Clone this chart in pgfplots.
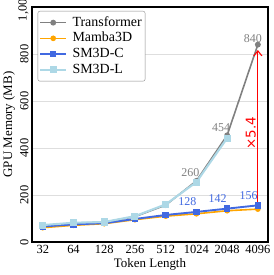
\documentclass[border=0pt]{standalone}
\usepackage{pgfplots}
\pgfplotsset{compat=1.18}
\usepackage{fontspec}
\setmainfont{Liberation Serif}
\newfontfamily\dejavu{DejaVu Sans}
\usetikzlibrary{arrows.meta}
\definecolor{tfgray}{RGB}{128,128,128}
\definecolor{mborange}{RGB}{255,165,0}
\definecolor{smblue}{RGB}{65,105,225}
\definecolor{smlight}{RGB}{173,216,230}
\newcommand{\lf}{\fontsize{14}{16}\selectfont}
\begin{document}
\begin{tikzpicture}
\path[use as bounding box] (-32bp,-33bp) rectangle (242bp,242bp);
\begin{axis}[
  at={(0,0)}, anchor=south west,
  scale only axis, width=236bp, height=235bp,
  xmin=-0.35, xmax=7.33, ymin=0, ymax=1000,
  xtick={0,...,7},
  xticklabels={32,64,128,256,512,1024,2048,4096},
  ytick={0,200,400,600,800,1000},
  ymajorgrids, grid style={color=black!13, line width=0.6pt},
  axis line style={line width=1.1pt},
  major tick length=0pt,
  xtick pos=bottom, ytick pos=left,
  /pgf/number format/assume math mode=true,
  tick label style={font=\fontsize{12.5}{14}\selectfont},
  yticklabel style={rotate=90, anchor=south},
  xlabel={Token Length}, ylabel={GPU Memory (MB)},
  label style={font=\fontsize{13}{15}\selectfont},
  xlabel style={at={(axis description cs:0.5,-0.096)}, anchor=center},
  ylabel style={at={(axis description cs:-0.097,0.5)}, anchor=center, rotate=0},
  legend style={at={(axis description cs:0.024,0.983)}, anchor=north west,
    draw=black!45, rounded corners=2pt, fill=white,
    row sep=0bp,
    inner xsep=1.3bp, inner ysep=3.6bp,
    nodes={inner sep=2bp, text height=9.5bp, text depth=2.2bp},
    /tikz/every odd column/.append style={column sep=3.3bp}},
  legend cell align=left,
  legend image code/.code={\draw[mark repeat=2,mark phase=2,#1] plot coordinates {(0bp,0bp) (13bp,0bp) (26bp,0bp)};},
]
\addplot[color=tfgray, line width=1.6pt, mark=*, mark size=2.1bp, mark options={solid}]
  coordinates {(0,70) (1,80) (2,84) (3,108) (4,157) (5,260) (6,454) (7,840)};
\addlegendentry{\lf Transformer}
\addplot[color=mborange, line width=1.6pt, mark=*, mark size=2bp]
  coordinates {(0,61) (1,71) (2,78) (3,95) (4,110) (5,120) (6,133) (7,140)};
\addlegendentry{\lf Mamba3D}
\addplot[color=smblue, line width=1.9pt, mark=square*, mark size=2.3bp]
  coordinates {(0,66) (1,75) (2,80) (3,98) (4,115) (5,128) (6,142) (7,156)};
\addlegendentry{\lf SM3D-C}
\addplot[color=smlight, line width=2.1pt, mark=square*, mark size=2.5bp]
  coordinates {(0,72) (1,82) (2,85) (3,110) (4,160) (5,255) (6,442)};
\addlegendentry{\lf SM3D-L}
\draw[red, line width=1.1pt, -{Straight Barb[length=5bp,width=8bp]}] (axis cs:7,166) -- (axis cs:7,817);
\node[red, rotate=90, font=\dejavu\fontsize{13.5}{15}\selectfont] at ([xshift=-7bp]axis cs:7,464) {×5.4};
\begin{scope}[every node/.style={font=\fontsize{12}{13}\selectfont, inner sep=0pt}]
\node[tfgray, anchor=south] at ([xshift=-5bp,yshift=2bp]axis cs:7,840) {840};
\node[tfgray] at ([xshift=-6bp,yshift=7.5bp]axis cs:6,454) {454};
\node[tfgray] at ([xshift=-6bp,yshift=8bp]axis cs:5,260) {260};
\node[smblue] at ([xshift=-9bp,yshift=10bp]axis cs:5,128) {128};
\node[smblue] at ([xshift=-9.5bp,yshift=10bp]axis cs:6,142) {142};
\node[smblue] at ([xshift=-9.3bp,yshift=10bp]axis cs:7,156) {156};
\end{scope}
\end{axis}
\end{tikzpicture}
\end{document}
